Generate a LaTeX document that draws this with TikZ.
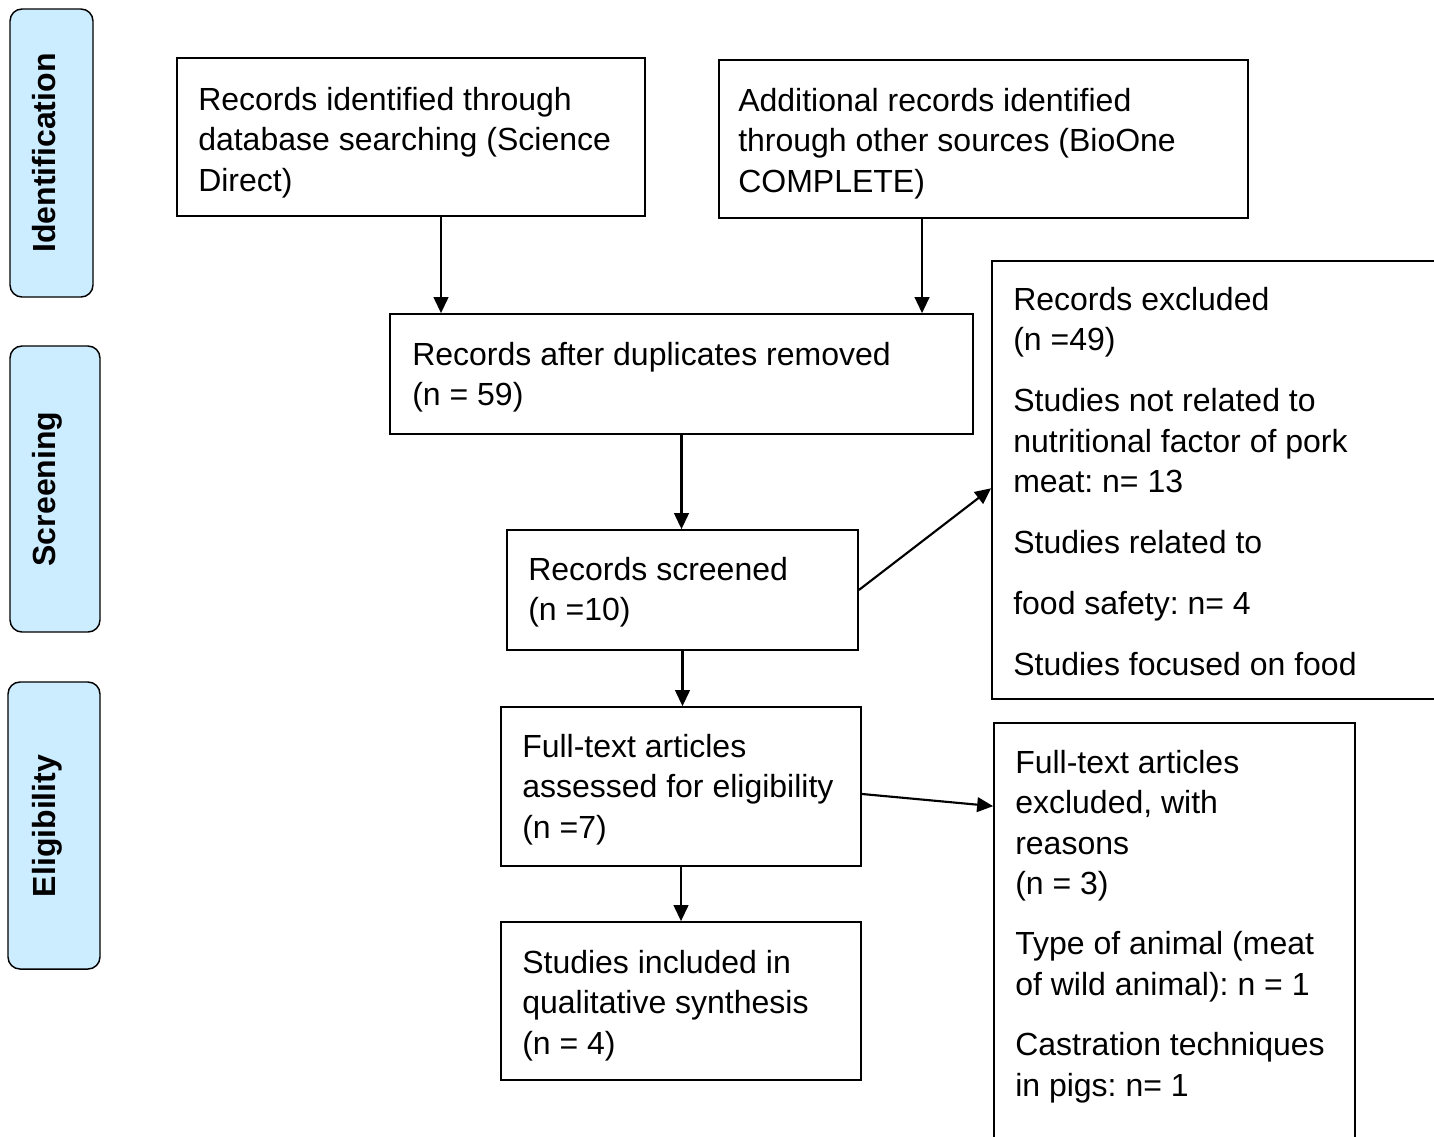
\documentclass[tikz,border=0pt]{standalone}
\usepackage{fontspec}
\setmainfont{Liberation Sans}
\usetikzlibrary{arrows.meta,fit}
\definecolor{sidefill}{RGB}{204,236,255}
\newcommand\firstln{\rule{0pt}{18pt}}
\begin{document}
\begin{tikzpicture}[x=0.75pt,y=-0.75pt,
  box/.style={draw=black,line width=1.3pt,inner sep=0pt,fill=white},
  sidebox/.style={draw=black,line width=1.1pt,inner sep=0pt,fill=sidefill,rounded corners=9pt},
  txt/.style={align=left,inner sep=0pt,anchor=north west,font=\fontsize{24pt}{30.3pt}\selectfont\frenchspacing},
  sidetxt/.style={inner sep=0pt,rotate=90,anchor=base,font=\fontsize{24pt}{28pt}\selectfont\bfseries},
  arr/.style={line width=1.6pt,-{Triangle[width=11pt,length=12pt]}}]
\useasboundingbox (0,0) rectangle (1434,1136);

% side phase labels
\node[sidebox,fit={(10,9) (93,297)}] (S1) {};
\node[sidetxt] (S1t) at (55,153) {Identification};
\node[sidebox,fit={(10,346) (100,632)}] (S2) {};
\node[sidetxt] (S2t) at (55,489) {Screening};
\node[sidebox,fit={(8,682) (100,969)}] (S3) {};
\node[sidetxt] (S3t) at (55,826) {Eligibility};

% main boxes (text nodes placed 24px above the first baseline)
\node[box,fit={(177,58) (645,216)}] (A) {};
\node[txt] (At) at (198,86) {\firstln Records identified through\\database searching (Science\\Direct)};

\node[box,fit={(719,60) (1248,218)}] (B) {};
\node[txt] (Bt) at (738,87) {\firstln Additional records identified\\through other sources (BioOne\\COMPLETE)};

\node[box,fit={(390,314) (973,434)}] (C) {};
\node[txt] (Ct) at (412,341) {\firstln Records after duplicates removed\\(n = 59)};

\node[box,fit={(507,530) (858,650)}] (D) {};
\node[txt] (Dt) at (528,556) {\firstln Records screened\\(n =10)};

\node[box,fit={(501,707) (861,866)}] (E) {};
\node[txt] (Et) at (522,733) {\firstln Full-text articles\\assessed for eligibility\\(n =7)};

\node[box,fit={(501,922) (861,1080)}] (F) {};
\node[txt] (Ft) at (522,949) {\firstln Studies included in\\qualitative synthesis\\(n = 4)};

\node[box,fit={(992,261) (1450,699)}] (G) {};
\node[txt] (Gt) at (1013,286) {\firstln Records excluded\\(n =49)\\[15.5pt]Studies not related to\\nutritional factor of pork\\meat: n= 13\\[15.5pt]Studies related to\\[15.5pt]food safety: n= 4\\[15.5pt]Studies focused on food};

\node[box,fit={(994,723) (1355,1160)}] (H) {};
\node[txt] (Ht) at (1015,749) {\firstln Full-text articles\\excluded, with\\reasons\\(n = 3)\\[15pt]Type of animal (meat\\of wild animal): n = 1\\[15pt]Castration techniques\\in pigs: n= 1};

% connectors
\draw[arr] ([xshift=22.5pt]A.south) -- ([xshift=22.5pt]A.south |- C.north);
\draw[arr] ([xshift=-46.1pt]B.south) -- ([xshift=-46.1pt]B.south |- C.north);
\draw[arr] (C.south) -- (C.south |- D.north);
\draw[arr] (D.south) -- (D.south |- E.north);
\draw[arr] (E.south) -- (E.south |- F.north);
\draw[arr] (D.east) -- ([yshift=-6.2pt]G.west);
\draw[arr] ([yshift=-5.6pt]E.east) -- ([yshift=-63pt]H.north west);
\end{tikzpicture}
\end{document}
